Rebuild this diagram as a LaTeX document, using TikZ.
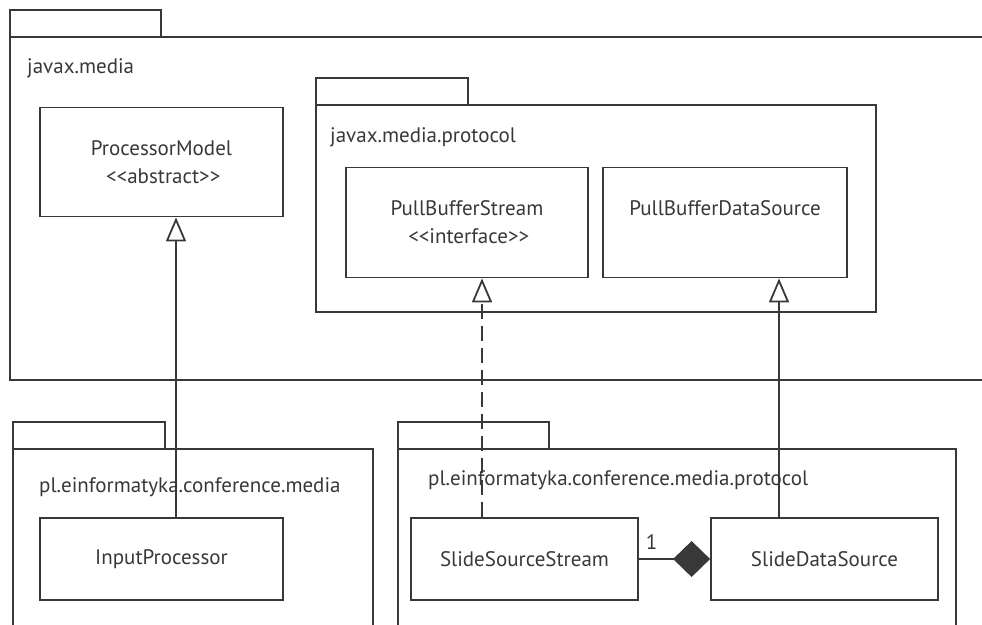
\documentclass[tikz,border=0pt]{standalone}
\usepackage{fontspec}
\setmainfont{PT Sans}
\usepackage{xcolor}
\usetikzlibrary{
    arrows.meta,
    positioning
}
\definecolor{umlgray}{HTML}{383838}
\tikzset{pkgbody/.style={draw=umlgray, line width=1.8pt, inner sep=0pt, outer sep=0pt, anchor=north west}}
\tikzset{pkgtab/.style={draw=umlgray, line width=1.8pt, inner sep=0pt, outer sep=0pt, anchor=south west}}
\tikzset{pkgname/.style={anchor=west, inner sep=0pt, text=umlgray}}
\tikzset{cls/.style={draw=umlgray, line width=1.8pt, inner sep=0pt, align=center, text=umlgray}}
\tikzset{extends/.style={draw=umlgray, line width=1.8pt, -{Triangle[open, length=24pt, width=20pt]}}}
\tikzset{implements/.style={extends, dash pattern=on 15pt off 7pt}}
\tikzset{composed/.style={draw=umlgray, line width=1.8pt, -{Diamond[length=37pt, width=36pt, fill=umlgray]}}}
\newcommand{\stereo}[1]{\textless{}\textless{}#1\textgreater{}\textgreater{}}

\begin{document}
\begin{tikzpicture}[x=1pt, y=-1pt, font=\fontsize{21}{28}\selectfont]
    \clip (0,0) rectangle (982,624);

    % javax.media
    \node[pkgbody, minimum width=1000, minimum height=343] (media) at (10,37) {};
    \node[pkgtab, minimum width=151, minimum height=27] (mediatab) at (media.north west) {};
    \node[pkgname] (medianame) at (27,68) {javax.media};

    \node[cls, minimum width=243, minimum height=109] (pm) at (161.5,162) {ProcessorModel\\\,\stereo{abstract}};

    % javax.media.protocol
    \node[pkgbody, minimum width=560, minimum height=207] (proto) at (316,105) {};
    \node[pkgtab, minimum width=152, minimum height=27] (prototab) at (proto.north west) {};
    \node[pkgname] (protoname) at (330,137) {javax.media.protocol};

    \node[cls, minimum width=242, minimum height=110] (pbs) at (467,222.5) {PullBufferStream\\\,\stereo{interface}};
    \node[cls, minimum width=244, minimum height=110] (pbds) at (725,222.5) {PullBufferDataSource\\\mbox{}};

    % pl.einformatyka.conference.media
    \node[pkgbody, minimum width=360, minimum height=200] (conf) at (13,449) {};
    \node[pkgtab, minimum width=152, minimum height=27] (conftab) at (conf.north west) {};
    \node[pkgname] (confname) at (39,487) {pl.einformatyka.conference.media};

    \node[cls, minimum width=243, minimum height=82] (ip) at (161.5,559) {InputProcessor};

    % pl.einformatyka.conference.media.protocol
    \node[pkgbody, minimum width=558, minimum height=200] (confproto) at (398,449) {};
    \node[pkgtab, minimum width=151, minimum height=27] (confprototab) at (confproto.north west) {};
    \node[pkgname] (confprotoname) at (428,480) {pl.einformatyka.conference.media.protocol};

    \node[cls, minimum width=227, minimum height=82] (sss) at (524.5,559) {SlideSourceStream};
    \node[cls, minimum width=227, minimum height=82] (sds) at (824.5,559) {SlideDataSource};

    % relations
    \coordinate (pmfoot) at ([xshift=14.5]pm.south);
    \coordinate (pbsfoot) at ([xshift=15]pbs.south);
    \coordinate (pbdsfoot) at ([xshift=54]pbds.south);

    \draw[extends] (ip.north -| pmfoot) -- (pmfoot);
    \draw[implements] (sss.north -| pbsfoot) -- (pbsfoot);
    \draw[extends] (sds.north -| pbdsfoot) -- (pbdsfoot);
    \draw[composed] (sss.east) -- (sds.west)
        node[pos=0, anchor=south west, inner sep=0pt, xshift=6pt, yshift=9pt, text=umlgray] (mult) {1};
\end{tikzpicture}
\end{document}
